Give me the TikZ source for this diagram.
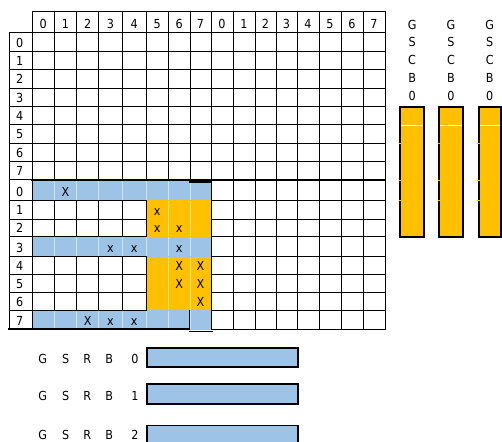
\documentclass[tikz,border=0pt]{standalone}
\usepackage{fontspec}
\setmainfont{DejaVu Sans Condensed}
\definecolor{cblue}{HTML}{9DC3E6}
\definecolor{corange}{HTML}{FFC000}
\begin{document}
\begin{tikzpicture}[x=1bp,y=-1bp,
  lbl/.style={inner sep=0pt, anchor=base, font=\fontsize{12.5}{12.5}\selectfont},
  gridline/.style={line width=1bp, line cap=rect},
  thickline/.style={line width=1.8bp, line cap=rect},
  bar/.style={fill=cblue, line width=1.8bp},
  tall/.style={fill=corange, line width=1.8bp},
  sep/.style={white, opacity=0.55, line width=0.5bp}]
\useasboundingbox (0,0) rectangle (502,442);
\clip (0,0) rectangle (502,442);
% ---- grid lines
\foreach \x in {32,54.3,76.5,98.7,122.3,146,168.3,190,211,233,255,276,297,319,341,363,385}
  \draw[gridline] (\x,12) -- (\x,329);
\draw[gridline] (9.3,33) -- (9.3,329);
\draw[gridline] (32,12) -- (385,12);
\foreach \y in {33,51.7,70,88.3,106.7,125,143.3,161.7,180,200.7,219.3,236.7,256,274.3,292.3,310,329}
  \draw[gridline] (9.3,\y) -- (385,\y);
% ---- fills
\fill[cblue] (31.5,179.5) rectangle (211.5,201.2);
\fill[cblue] (31.5,236.2) rectangle (211.5,256.5);
\fill[cblue] (31.5,309.5) rectangle (211.5,329.5);
\fill[corange] (145.5,200.2) rectangle (211.5,236.7);
\fill[corange] (145.5,256.5) rectangle (211.5,310);
% faint separators inside filled cells
\foreach \x in {54.3,76.5,98.7,122.3,146,168.3,190} {
  \draw[sep] (\x,181) -- (\x,200.2);
  \draw[sep] (\x,237.2) -- (\x,255.5);
  \draw[sep] (\x,310.5) -- (\x,328.5);
}
\foreach \x in {168.3,190} {
  \draw[sep] (\x,201.2) -- (\x,236.2);
  \draw[sep] (\x,256.5) -- (\x,309.5);
}
% ---- redraw borders of white cells
\foreach \xa/\xb in {32/54.3,54.3/76.5,76.5/98.7,98.7/122.3,122.3/146} {
  \foreach \ya/\yb in {200.7/219.3,219.3/236.7,256/274.3,274.3/292.3,292.3/310}
    \draw[gridline] (\xa,\ya) rectangle (\xb,\yb);
}
\draw[gridline] (32,33) -- (32,329);
\draw[gridline] (211,12) -- (211,329);
\draw[thickline] (32,180) -- (385,180);
\draw[thickline] (9.3,329) -- (189.3,329);
\draw[gridline] (211,329) -- (385,329);
\draw[line width=0.9bp] (189.3,331.7) -- (213.3,331.7);
\draw[line width=1bp] (189.8,310) -- (189.8,329);
\fill[black] (189.3,179.5) rectangle (211.5,182.7);
% ---- header labels
\foreach \c/\t [count=\i] in {43.15/0,65.4/1,87.6/2,110.5/3,134.15/4,157.15/5,179.15/6,200.5/7,222/0,244/1,265.5/2,286.5/3,308/4,330/5,352/6,374/7}
  \node[lbl] (h\i) at (\c,28.5) {\t};
% ---- row labels
\foreach \b/\t [count=\i] in {47.4/0,65.7/1,84/2,102.4/3,120.7/4,139/5,157.4/6,175.7/7,197/0,215/1,232.7/2,252/3,270.3/4,288.3/5,306/6,325/7}
  \node[lbl, anchor=base west] (r\i) at (16,\b) {\t};
% ---- marks
\foreach \c/\b/\t [count=\i] in {65.4/197/X, 157.15/215.3/x, 157.15/233/x, 179.15/233/x, 110.5/252.3/x, 134.15/252.3/x, 179.15/252.3/x, 179.15/270.5/X, 200.5/270.5/X, 179.15/288.5/X, 200.5/288.5/X, 200.5/306.3/X, 87.6/325/X, 110.5/325/x, 134.15/325/x}
  \node[lbl] (m\i) at (\c,\b) {\t};
% ---- GSCB columns
\foreach \bl/\br [count=\i] in {400/424.3,439.3/462.7,478.7/500.7} {
  \foreach \ch/\b [count=\j] in {G/29.3,S/47,C/64.7,B/82.5,0/100.3}
    \node[lbl] (g\i\j) at ({(\bl+\br)/2},\b) {\ch};
  \draw[tall] (\bl,106.7) rectangle (\br,237.3);
  \draw[white, line width=0.8bp] (\bl+0.9,125) -- (\br-0.9,125);
  \foreach \ty in {143.3,181,200.3}
    \draw[corange, line width=1bp] (\bl-1.5,\ty) -- (\bl+1.5,\ty);
}
% ---- GSRB bars
\foreach \ya/\yb/\b/\d [count=\i] in {348.3/366.7/363.3/0, 384.3/404/400.7/1, 425.5/452/439/2} {
  \foreach \ch/\cx [count=\j] in {G/42.7,S/65.7,R/87.3,B/109.3}
    \node[lbl] (s\i\j) at (\cx,\b) {\ch};
  \node[lbl] (n\i) at (135,\b) {\d};
  \draw[bar] (146.7,\ya) rectangle (297.7,\yb);
}
\end{tikzpicture}
\end{document}
